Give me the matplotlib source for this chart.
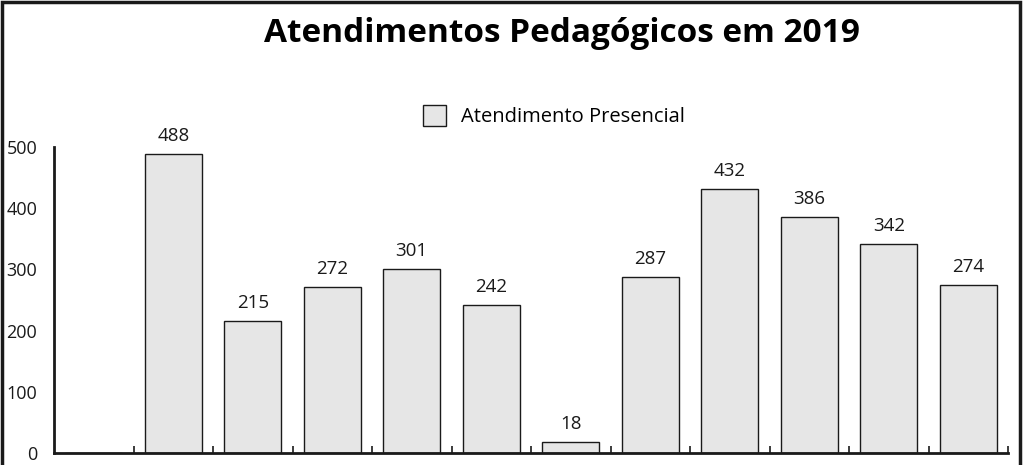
import matplotlib
matplotlib.use("Agg")
import matplotlib.pyplot as plt
from matplotlib.patches import Rectangle
import numpy as np

plt.rcParams['font.family'] = ['Open Sans', 'DejaVu Sans']

title = "Atendimentos Pedagógicos em 2019"
series_name = "Atendimento Presencial"
categories = ["Jan", "Fev", "Mar", "Abr", "Mai", "Jun",
              "Jul", "Ago", "Set", "Out", "Nov", "Dez"]
values = [0, 488, 215, 272, 301, 242, 18, 287, 432, 386, 342, 274]
yticks = [0, 100, 200, 300, 400, 500]

W, H = 1024, 465
fig = plt.figure(figsize=(W / 100, H / 100), dpi=100)
fig.patch.set_facecolor("white")

ax_left = 54 / W
ax_right = 1008 / W
ax_bottom = 1 - 453 / H
ax_top = 1 - 147 / H
ax = fig.add_axes([ax_left, ax_bottom, ax_right - ax_left, ax_top - ax_bottom])

x = np.arange(len(categories))
bars = ax.bar(x, values, width=0.72, color="#e6e6e6", edgecolor="#1a1a1a",
              linewidth=1.0, label=series_name, zorder=2)

for xi, v in zip(x, values):
    if v > 0:
        ax.annotate(str(v), (xi, v), xytext=(0, 6.5), textcoords="offset points",
                    ha="center", va="bottom", fontsize=13.5, color="#1a1a1a")

ax.set_xlim(-0.5, len(categories) - 0.5)
ax.set_ylim(0, 500)
ax.set_yticks(yticks)
ax.set_yticklabels([str(t) for t in yticks], fontsize=13, color="#1a1a1a")
ax.tick_params(axis="y", length=0, pad=12)

ax.set_xticks(x)
ax.set_xticklabels([])
ax.tick_params(axis="x", which="major", length=0)
ax.set_xticks(np.arange(len(categories)) + 0.5, minor=True)
ax.tick_params(axis="x", which="minor", direction="in", length=5,
               width=1.2, color="#1a1a1a")

for s in ["top", "right"]:
    ax.spines[s].set_visible(False)
ax.spines["left"].set_linewidth(2.0)
ax.spines["bottom"].set_linewidth(2.0)
ax.spines["left"].set_color("#1a1a1a")
ax.spines["bottom"].set_color("#1a1a1a")

fig.text(562 / W, 1 - 34 / H, title, ha="center", va="center",
         fontsize=24, fontweight="bold", color="black")

fig.legend(handles=[bars], labels=[series_name], loc="center",
           bbox_to_anchor=(554 / W, 1 - 116 / H), frameon=False,
           fontsize=14.5, handlelength=1.15, handleheight=1.25,
           handletextpad=0.75, borderpad=0)

frame = Rectangle((2 / W, -0.1), (1020 - 2) / W, 1 - 2 / H + 0.1,
                  transform=fig.transFigure, fill=False,
                  edgecolor="#1a1a1a", linewidth=2.5)
fig.patches.append(frame)

fig.savefig("out.png", dpi=100)
